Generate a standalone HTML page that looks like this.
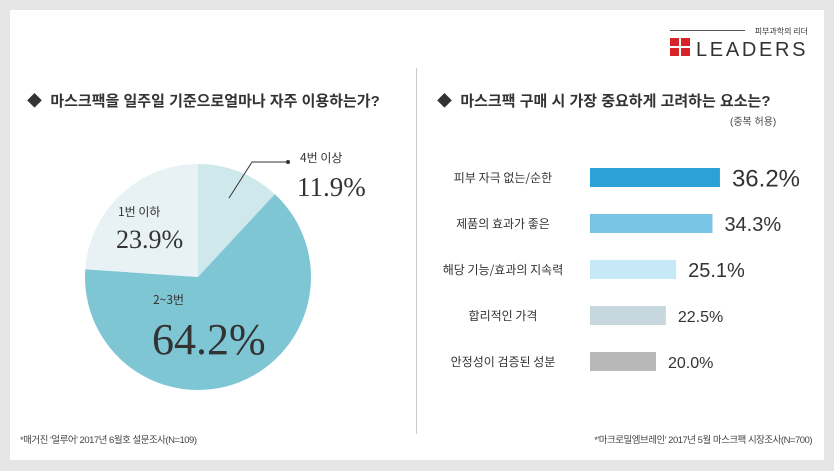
<!DOCTYPE html>
<html><head><meta charset="utf-8">
<style>
body{margin:0;width:834px;height:471px;background:#e6e6e6;font-family:"Liberation Sans","Noto Sans CJK KR",sans-serif;overflow:hidden}
#panel{position:absolute;left:10px;top:10px;width:814px;height:450px;background:#fff}
.t{position:absolute;white-space:nowrap}
</style></head><body>
<div id="panel"></div>
<svg width="834" height="471" style="position:absolute;left:0;top:0" id="svg">
 <g>
  <line x1="670" y1="30.5" x2="745" y2="30.5" stroke="#555" stroke-width="1"/>
  <text x="808" y="34" font-size="8" text-anchor="end" fill="#333" font-family="Noto Sans CJK KR,sans-serif">피부과학의 리더</text>
  <rect x="670" y="38" width="9" height="8" fill="#d8222a"/><rect x="681" y="38" width="9" height="8" fill="#d8222a"/>
  <rect x="670" y="48" width="9" height="8" fill="#d8222a"/><rect x="681" y="48" width="9" height="8" fill="#d8222a"/>
  <text x="696" y="56" font-size="20" fill="#333" font-family="Liberation Sans,sans-serif" letter-spacing="2.5" textLength="112">LEADERS</text>
 </g>
 <line x1="416.5" y1="68" x2="416.5" y2="434" stroke="#ccc"/>
 <g id="pie"></g>
 <g id="bars"></g>
</svg>
<div class="t" style="left:27px;top:90px;font-size:15px;font-weight:bold;color:#333">◆&nbsp; 마스크팩을 일주일 기준으로얼마나 자주 이용하는가?</div>
<div class="t" style="left:437px;top:90px;font-size:15px;font-weight:bold;color:#333">◆&nbsp; 마스크팩 구매 시 가장 중요하게 고려하는 요소는?</div>
<div class="t" style="left:730px;top:113px;font-size:10px;color:#444">(중복 허용)</div>
<div class="t" style="left:20px;top:432px;font-size:9.5px;color:#444;letter-spacing:-0.5px">*매거진 '얼루어' 2017년 6월호 설문조사(N=109)</div>
<div class="t" style="right:22px;top:432px;font-size:9.5px;color:#444;letter-spacing:-0.5px">*'마크로밀엠브레인' 2017년 5월 마스크팩 시장조사(N=700)</div>
<script>
const pieLabels=["4번 이상","2~3번","1번 이하"];
const pieValues=[11.9,64.2,23.9];
const pieColors=["#cfe8ec","#7fc6d4","#e8f2f4"];
const barLabels=["피부 자극 없는/순한","제품의 효과가 좋은","해당 기능/효과의 지속력","합리적인 가격","안정성이 검증된 성분"];
const barValues=[36.2,34.3,25.1,22.5,20.0];
const barColors=["#2ba1d7","#79c3e4","#c7e8f6","#c6d7de","#b9b8b9"];
const NS="http://www.w3.org/2000/svg";
function mk(tag,attrs,parent){const e=document.createElementNS(NS,tag);for(const k in attrs)e.setAttribute(k,attrs[k]);parent.appendChild(e);return e;}
const pie=document.getElementById('pie');
const cx=198,cy=277,r=113;
const total=pieValues.reduce((a,b)=>a+b,0);
function pt(a,rr){return [cx+rr*Math.sin(a),cy-rr*Math.cos(a)];}
let a0=0;
const mids=[];
pieValues.forEach((v,i)=>{
 const a1=a0+v/total*2*Math.PI;
 const p0=pt(a0,r),p1=pt(a1,r);
 const p=mk('path',{d:`M${cx},${cy}L${p0[0]},${p0[1]}A${r},${r} 0 ${a1-a0>Math.PI?1:0} 1 ${p1[0]},${p1[1]}Z`,fill:pieColors[i]},pie);
 
 
 mids.push((a0+a1)/2);a0=a1;
});
const lp=[[300,152,297,196,27],[153,294,152,354,44],[118,206,116,248,26]];
pieValues.forEach((v,i)=>{
 const t1=mk('text',{x:lp[i][0],y:lp[i][1]+10,'font-size':12,fill:'#333','font-family':'Noto Sans CJK KR,sans-serif'},pie);
 t1.textContent=pieLabels[i];
 
 
 const t2=mk('text',{x:lp[i][2],y:lp[i][3],'font-size':lp[i][4],fill:'#333','font-family':'Liberation Serif,serif'},pie);
 t2.textContent=v.toFixed(1)+'%';
 
 
});
const m=pt(mids[0],r*0.75);
const ld=mk('polyline',{points:`${m[0]},${m[1]} ${252},${162} ${288},${162}`,fill:'none',stroke:'#333','stroke-width':1},pie);


const dot=mk('circle',{cx:288,cy:162,r:2,fill:'#333'},pie);


const bars=document.getElementById('bars');
const x0=590;
function xw(v){return (v-3.3)*3.95;}
const vsize=[24,20,20,16,16];
barValues.forEach((v,i)=>{
 const y=168+i*46;
 const lb=mk('text',{x:503,y:y+14,'font-size':12,fill:'#333','text-anchor':'middle','font-family':'Noto Sans CJK KR,sans-serif'},bars);
 lb.textContent=barLabels[i];
 
 
 const b=mk('rect',{x:x0,y:y,width:xw(v),height:19,fill:barColors[i]},bars);
 
 
 const vt=mk('text',{x:x0+xw(v)+12,y:y+10+vsize[i]*0.36,'font-size':vsize[i],fill:'#333','font-family':'Liberation Sans,sans-serif'},bars);
 vt.textContent=v.toFixed(1)+'%';
 
 
});
</script>
</body></html>
